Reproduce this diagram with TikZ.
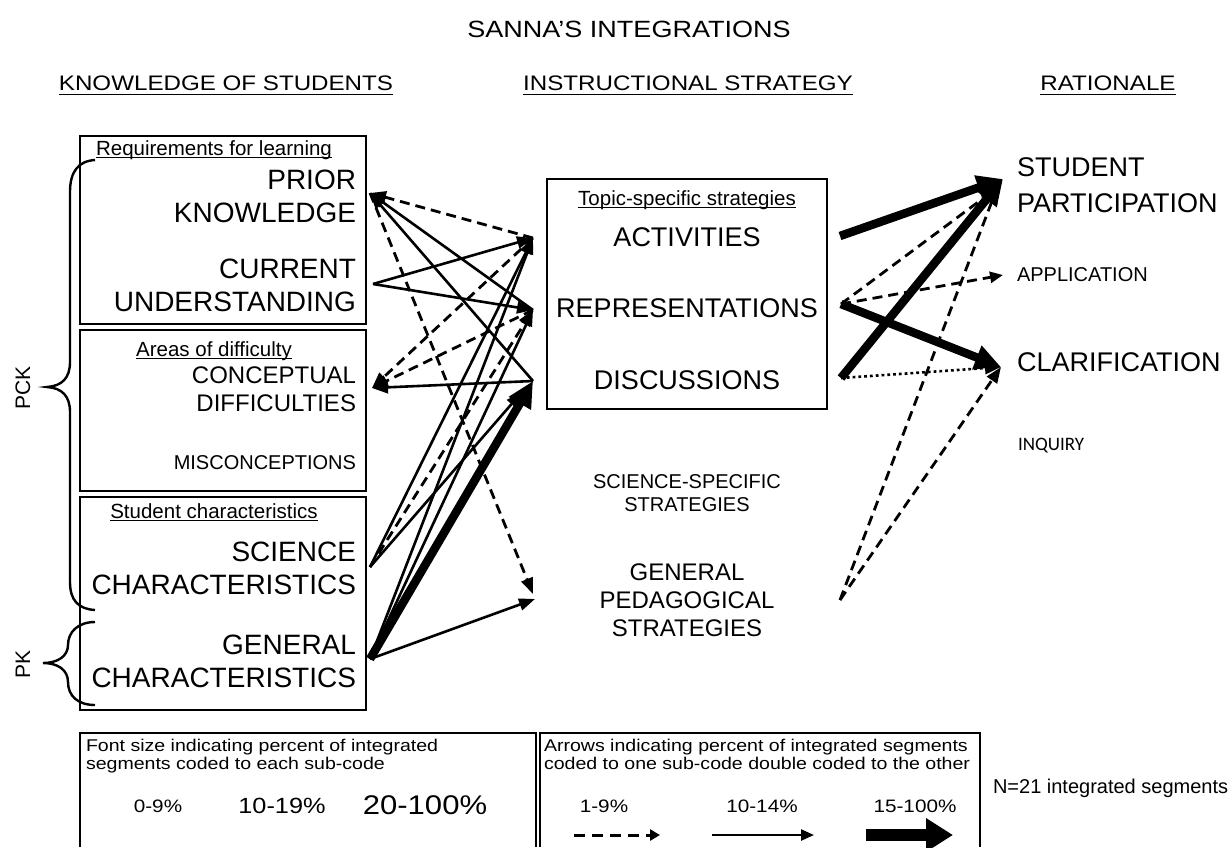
\documentclass[tikz,border=0pt]{standalone}
\usepackage{fontspec}
\setmainfont{Liberation Sans}
\newfontfamily\carl{Carlito}
\newfontfamily\widef[FakeStretch=1.15]{Liberation Sans}
\usetikzlibrary{arrows.meta}
\newcommand\myfs[2]{\fontsize{#1}{#2}\selectfont}
\begin{document}
\begin{tikzpicture}[x=1pt,y=-1pt,
  lab/.style={inner sep=0pt, outer sep=0pt},
  bigl/.style={lab, font=\myfs{28}{33}},
  bigm/.style={lab, font=\myfs{27}{33}},
  bigr/.style={lab, font=\myfs{27}{36}},
  midt/.style={lab, font=\myfs{24}{28}},
  smlt/.style={lab, font=\myfs{20}{23}},
  subt/.style={lab, font=\myfs{20.5}{24}},
  hdr/.style={lab, font=\widef\myfs{21}{24}},
  leg/.style={lab, font=\widef\myfs{17}{20}},
  boxl/.style={draw, line width=1.6pt},
  uline/.style={line width=1.5pt},
  con/.style={line width=2.6pt, -{Triangle[length=16pt,width=12pt]}},
  dsh/.style={con, line width=2.8pt, dash pattern=on 10pt off 6pt},
  thk/.style={line width=8.5pt, -{Triangle[length=26pt,width=24pt]}},
  dotl/.style={con, dash pattern=on 2.8pt off 3pt},
  brc/.style={line width=2.4pt},
]
\useasboundingbox (0,0) rectangle (1231,847);
\fill[white] (0,0) rectangle (1231,847);

% titles
\node[lab, font=\widef\myfs{23.5}{27}, anchor=base] (title) at (629,37) {SANNA’S INTEGRATIONS};
\node[hdr, anchor=base] (h1) at (226,90) {KNOWLEDGE OF STUDENTS};
\node[hdr, anchor=base] (h2) at (688,90) {INSTRUCTIONAL STRATEGY};
\node[hdr, anchor=base] (h3) at (1108,90) {RATIONALE};
\foreach \h in {h1,h2,h3}{\draw[uline] ([yshift=-4.5pt]\h.base west) -- ([yshift=-4.5pt]\h.base east);}

% left boxes
\draw[boxl] (80,136) rectangle (366,324);
\draw[boxl] (80,330) rectangle (366,491);
\draw[boxl] (80,497) rectangle (366,710);
\node[subt, anchor=base] (s1) at (214,155) {Requirements for learning};
\node[subt, anchor=base] (s2) at (214,356) {Areas of difficulty};
\node[subt, anchor=base] (s3) at (214,518) {Student characteristics};
\foreach \s in {s1,s2,s3}{\draw[uline] ([yshift=-2.5pt]\s.base west) -- ([yshift=-2.5pt]\s.base east);}
\node[bigl, anchor=east, align=right] (pk) at (356,196) {PRIOR\\KNOWLEDGE};
\node[bigl, anchor=east, align=right] (cu) at (356,285) {CURRENT\\UNDERSTANDING};
\node[midt, anchor=east, align=right] (cd) at (356,389) {CONCEPTUAL\\DIFFICULTIES};
\node[smlt, anchor=east] (mis) at (356,463) {MISCONCEPTIONS};
\node[bigl, anchor=east, align=right] (sc) at (356,568) {SCIENCE\\CHARACTERISTICS};
\node[bigl, anchor=east, align=right] (gc) at (356,661) {GENERAL\\CHARACTERISTICS};

% braces
\draw[brc] (95,160) .. controls (78,161) and (70,172) .. (70,192) -- (70,362)
  .. controls (70,378) and (62,386) .. (47,387) .. controls (62,388) and (70,396) .. (70,412)
  -- (70,582) .. controls (70,600) and (78,609) .. (95,610);
\draw[brc] (95,622) .. controls (78,622) and (68,632) .. (68,645)
  .. controls (68,656) and (58,663) .. (43,663) .. controls (58,663) and (68,670) .. (68,682)
  .. controls (68,696) and (78,705) .. (95,705);
\node[lab, font=\myfs{21}{24}, rotate=90] (pcklab) at (23,388) {PCK};
\node[lab, font=\myfs{21}{24}, rotate=90] (pklab) at (23,664) {PK};

% middle
\draw[boxl] (547,179) rectangle (827,409);
\node[subt, anchor=base] (tss) at (687,205) {Topic-specific strategies};
\draw[uline] ([yshift=-2.5pt]tss.base west) -- ([yshift=-2.5pt]tss.base east);
\node[bigm] (act) at (687,237) {ACTIVITIES};
\node[bigm] (rep) at (687,308) {REPRESENTATIONS};
\node[bigm] (dis) at (687,380) {DISCUSSIONS};
\node[smlt, align=center] (sss) at (687,493) {SCIENCE-SPECIFIC\\STRATEGIES};
\node[midt, align=center] (gps) at (687,600) {GENERAL\\PEDAGOGICAL\\STRATEGIES};

% right
\node[bigr, anchor=west, align=left] (sp) at (1017,185) {STUDENT\\PARTICIPATION};
\node[smlt, anchor=west] (app) at (1017,275) {APPLICATION};
\node[bigr, anchor=west] (clar) at (1017,362) {CLARIFICATION};
\node[lab, font=\carl\myfs{19}{22}, anchor=west] (inq) at (1018,446) {INQUIRY};

% connection points
\coordinate (pkp) at (370,193);
\coordinate (cup) at (373,284);
\coordinate (cdp) at (372,388);
\coordinate (scp) at (370,567);
\coordinate (gcp) at (370,659);
\coordinate (actl) at (533,238);
\coordinate (repl) at (533,310);
\coordinate (disl) at (533,381);
\coordinate (disl2) at (522,392);
\coordinate (gpsl) at (533,594);
\coordinate (gpsl2) at (535,599);
\coordinate (actr) at (840,236);
\coordinate (repr) at (841,304);
\coordinate (disr) at (841,378);
\coordinate (gpsr) at (840,600);
\coordinate (spl) at (1003,179);
\coordinate (spl2) at (997,188);
\coordinate (appl) at (1003,275);
\coordinate (clarl) at (1001,367);

% left connectors
\draw[dsh] (actl) -- (pkp);
\draw[con] (repl) -- (pkp);
\draw[con] (disl) -- (pkp);
\draw[dsh] (pkp) -- (gpsl);
\draw[con] (cup) -- (actl);
\draw[con] (cup) -- (repl);
\draw[dsh] (actl) -- (cdp);
\draw[dsh] (repl) -- (cdp);
\draw[con] (disl) -- (cdp);
\draw[con] (scp) -- (actl);
\draw[dsh] (scp) -- (repl);
\draw[con] (scp) -- (disl2);
\draw[con] (gcp) -- (actl);
\draw[con] (gcp) -- (repl);
\draw[thk] (gcp) -- (disl);
\draw[con] (gcp) -- (gpsl2);

% right connectors
\draw[thk] (actr) -- (spl);
\draw[dsh] (repr) -- (spl2);
\draw[dsh, -{Triangle[length=13pt,width=11pt]}] (repr) -- (appl);
\draw[thk] (repr) -- (clarl);
\draw[thk] (disr) -- (spl);
\draw[dotl] (disr) -- (clarl);
\draw[dsh] (gpsr) -- (spl2);
\draw[dsh] (gpsr) -- (clarl);

% legend
\draw[boxl] (80,847) -- (80,733) -- (536,733) -- (536,847);
\draw[boxl] (540,847) -- (540,733) -- (980,733) -- (980,847);
\node[leg, anchor=base west] (la1) at (86,751) {Font size indicating percent of integrated};
\node[leg, anchor=base west] (la2) at (86,769) {segments coded to each sub-code};
\node[leg, anchor=base west] (lb1) at (544,751) {Arrows indicating percent of integrated segments};
\node[leg, anchor=base west] (lb2) at (544,769) {coded to one sub-code double coded to the other};
\node[lab, font=\widef\myfs{18}{21}, anchor=base] (p1) at (158,812) {0-9\%};
\node[lab, font=\widef\myfs{22}{25}, anchor=base] (p2) at (282,813) {10-19\%};
\node[lab, font=\widef\myfs{27}{30}, anchor=base] (p3) at (425,814) {20-100\%};
\node[lab, font=\widef\myfs{18}{21}, anchor=base] (q1) at (604,812) {1-9\%};
\node[lab, font=\widef\myfs{18}{21}, anchor=base] (q2) at (762,812) {10-14\%};
\node[lab, font=\widef\myfs{18}{21}, anchor=base] (q3) at (915,812) {15-100\%};
\coordinate (d1s) at (574,835); \coordinate (d1e) at (660,835);
\coordinate (d2s) at (712,835); \coordinate (d2e) at (814,835);
\coordinate (d3s) at (866,835); \coordinate (d3e) at (953,835);
\draw[line width=3pt, dash pattern=on 11pt off 7pt, -{Triangle[length=10pt,width=11pt]}] (d1s) -- (d1e);
\draw[line width=2.4pt, -{Triangle[length=13pt,width=11pt]}] (d2s) -- (d2e);
\draw[line width=12pt, -{Triangle[length=27pt,width=32pt]}] (d3s) -- (d3e);
\node[lab, font=\myfs{20}{23}, anchor=west] (n21) at (993,788) {N=21 integrated segments};
\end{tikzpicture}
\end{document}
